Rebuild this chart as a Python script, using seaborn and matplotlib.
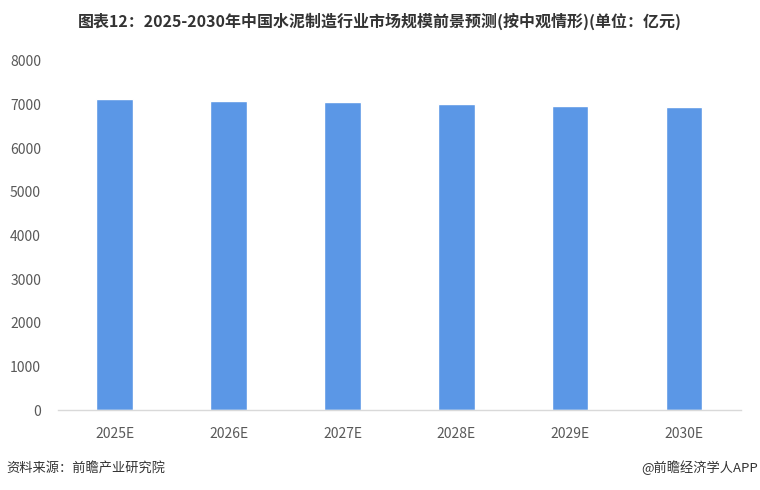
import pandas as pd
import seaborn as sns
import matplotlib.pyplot as plt

# chart data
years = ["2025E", "2026E", "2027E", "2028E", "2029E", "2030E"]
market_size = [7115, 7080, 7045, 7010, 6975, 6940]

title = "图表12：2025-2030年中国水泥制造行业市场规模前景预测(按中观情形)(单位：亿元)"
source = "资料来源：前瞻产业研究院"
credit = "@前瞻经济学人APP"

sns.set_theme(style="white")
plt.rcParams['font.family'] = ['Noto Sans CJK SC', 'DejaVu Sans']

df = pd.DataFrame({"year": years, "value": market_size})

fig = plt.figure(figsize=(7.6, 4.9), dpi=100)
ax = fig.add_axes([0.076, 0.163, 0.899, 0.713])

sns.barplot(data=df, x="year", y="value", color="#5B97E6", saturation=1,
            width=0.32, ax=ax)

ax.set_ylim(0, 8000)
ax.set_yticks(range(0, 8001, 1000))
ax.set_xlabel("")
ax.set_ylabel("")
ax.tick_params(axis="both", colors="#595959", labelsize=10, length=0)
ax.tick_params(axis="x", pad=12)
ax.tick_params(axis="y", pad=12)
for s in ["top", "right", "left"]:
    ax.spines[s].set_visible(False)
ax.spines["bottom"].set_color("#D9D9D9")
ax.spines["bottom"].set_linewidth(1)

fig.text(0.5, 0.957, title, ha="center", va="center", fontsize=11.5,
         fontweight="bold", color="#333333")
fig.text(0.008, 0.045, source, ha="left", va="center", fontsize=9.5, color="#333333")
fig.text(0.998, 0.045, credit, ha="right", va="center", fontsize=9.5, color="#333333")

plt.savefig("out.png", dpi=100)
plt.close()
